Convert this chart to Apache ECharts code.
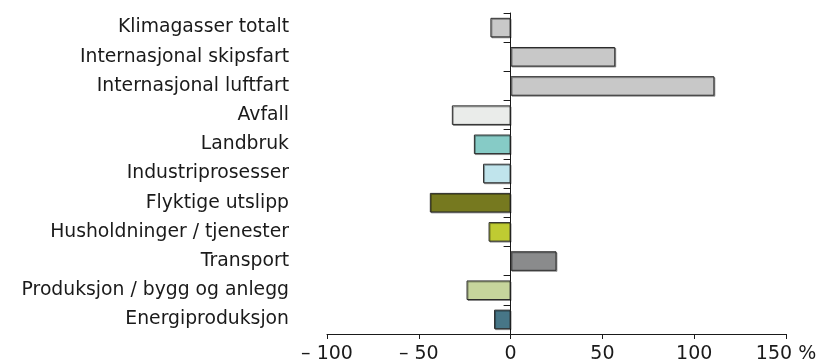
<!DOCTYPE html>
<html>
<head>
<meta charset="utf-8">
<script src="https://cdn.jsdelivr.net/npm/echarts@6/dist/echarts.min.js"></script>
<style>
  html, body { margin: 0; padding: 0; background: #ffffff; }
  #chart { width: 817px; height: 363px; }
</style>
</head>
<body>
<div id="chart"></div>
<script>
// Change in emissions by source (%)
const categories = [
  'Klimagasser totalt',
  'Internasjonal skipsfart',
  'Internasjonal luftfart',
  'Avfall',
  'Landbruk',
  'Industriprosesser',
  'Flyktige utslipp',
  'Husholdninger / tjenester',
  'Transport',
  'Produksjon / bygg og anlegg',
  'Energiproduksjon'
];
const values = [-11, 57, 111, -32, -20, -15, -44, -12, 25, -24, -9];
const barColors = [
  '#c8c8c8', '#c8c8c8', '#c8c8c8', '#eaecea', '#86cbc6', '#c0e4ec',
  '#76791f', '#bfcb32', '#8a8b8c', '#c6d59c', '#477687'
];
const xTicks = { '-100': '– 100', '-50': '– 50', '0': '0', '50': '50', '100': '100', '150': '150 %' };

const font = 'DejaVu Sans, Verdana, sans-serif';
const chart = echarts.init(document.getElementById('chart'), null, { renderer: 'canvas' });

chart.setOption({
  animation: false,
  grid: { left: 327, right: 31, top: 13, bottom: 29, containLabel: false, outerBoundsMode: 'none' },
  xAxis: {
    type: 'value',
    min: -100,
    max: 150,
    interval: 50,
    splitLine: { show: false },
    axisLine: { show: true, onZero: false, lineStyle: { color: '#1a1a1a', width: 1 } },
    axisTick: { show: true, inside: false, length: 5, lineStyle: { color: '#1a1a1a' } },
    axisLabel: {
      margin: 11,
      color: '#1a1a1a',
      fontFamily: font,
      fontSize: 19,
      formatter: v => xTicks[String(v)]
    }
  },
  yAxis: {
    type: 'category',
    data: categories,
    inverse: true,
    axisLine: { show: true, onZero: true, lineStyle: { color: '#1a1a1a', width: 1 } },
    axisTick: { show: true, length: 7, lineStyle: { color: '#1a1a1a' } },
    axisLabel: {
      margin: 38,
      color: '#1a1a1a',
      fontFamily: font,
      fontSize: 18.8,
      align: 'right',
      padding: [3, 0, 0, 0]
    }
  },
  series: [{
    type: 'bar',
    data: values.map((v, i) => ({ value: v, itemStyle: { color: barColors[i] } })),
    barWidth: '67%',
    itemStyle: {
      borderColor: '#2b2b2b',
      borderWidth: 1,
      shadowColor: 'rgba(0,0,0,0.35)',
      shadowOffsetX: 1,
      shadowOffsetY: 1,
      shadowBlur: 0
    }
  }]
});
</script>
</body>
</html>
